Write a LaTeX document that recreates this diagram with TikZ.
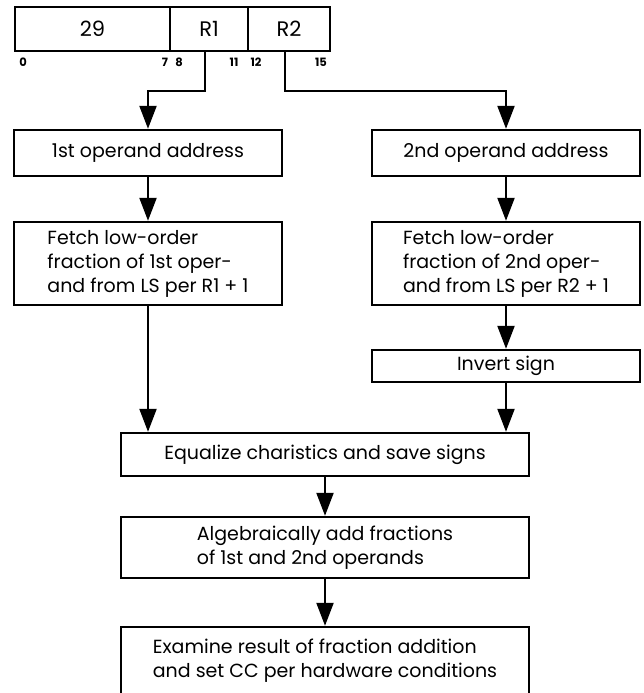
\documentclass[tikz,border=0pt]{standalone}
\usepackage{fontspec}
\setmainfont{Poppins}
\usetikzlibrary{arrows.meta, positioning}

\begin{document}
\begin{tikzpicture}[x=1pt,y=-1pt,>={Triangle[width=17pt,length=23pt]},
  flow/.style={->,line width=2.2pt},
  field/.style={rectangle,draw,line width=2.3pt,minimum height=44pt,
  inner sep=0pt,outer sep=0pt,font=\fontsize{21}{24}\selectfont},
  bitno/.style={inner sep=0pt,font=\bfseries\fontsize{11.5}{12}\selectfont},
  box/.style={rectangle,draw,line width=2.4pt,align=left,
  font=\fontsize{19}{24}\selectfont}]
  \useasboundingbox (0,0) rectangle (643,693);

  % instruction word
  \node[field,minimum width=155pt] (op) at (92.5,29) {29};
  \node[field,minimum width=78pt] (r1) [right=0pt of op] {R1};
  \node[field,minimum width=82pt] (r2) [right=0pt of r1] {R2};
  \foreach \n/\x in {0/23,7/165,8/179,11/234,12/256,15/321}
    \node[bitno] (b\n) at (\x,62) {\n};

  % left and right operand paths
  \node[box,minimum width=268pt,minimum height=46pt] (addr1) at (148,153) {1st operand address};
  \node[box,minimum width=268pt,minimum height=46pt] (addr2) at (506,153) {2nd operand address};
  \node[box,minimum width=268pt,minimum height=83pt] (fetch1) at (148,263.5)
    {Fetch low-order\\fraction of 1st oper-\\and from LS per R1 + 1};
  \node[box,minimum width=268pt,minimum height=83pt] (fetch2) at (506,263.5)
    {Fetch low-order\\fraction of 2nd oper-\\and from LS per R2 + 1};
  \node[box,minimum width=268pt,minimum height=32pt] (invert) at (506,366) {Invert sign};

  % common part
  \node[box,minimum width=408pt,minimum height=43pt] (equal) at (325,454.5)
    {Equalize charistics and save signs};
  \node[box,minimum width=408pt,minimum height=61pt] (algadd) at (325,547.5)
    {Algebraically add fractions\\of 1st and 2nd operands};
  \node[box,minimum width=408pt,minimum height=68pt] (exam) at (325,661)
    {Examine result of fraction addition\\and set CC per hardware conditions};

  \draw[flow] ([xshift=-4pt]r1.south) -- ++(0,40) -| (addr1.north);
  \draw[flow] ([xshift=-4pt]r2.south) -- ++(0,40) -| (addr2.north);
  \draw[flow] (addr1) -- (fetch1);
  \draw[flow] (addr2) -- (fetch2);
  \draw[flow] (fetch2) -- (invert);
  \draw[flow] (fetch1.south) -- (fetch1.south |- equal.north);
  \draw[flow] (invert.south) -- (invert.south |- equal.north);
  \draw[flow] (equal) -- (algadd);
  \draw[flow] (algadd) -- (exam);
\end{tikzpicture}
\end{document}
